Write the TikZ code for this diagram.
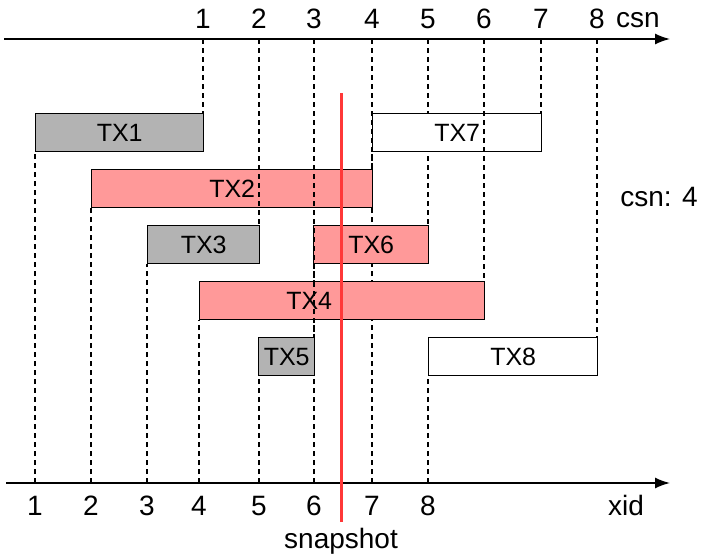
\documentclass[tikz,border=0pt]{standalone}
\usepackage{fontspec}
\setmainfont{Liberation Sans}
\usetikzlibrary{arrows.meta,backgrounds}
\definecolor{txgray}{HTML}{B3B3B3}
\definecolor{txpink}{HTML}{FF9999}
\definecolor{snapred}{HTML}{FF3838}

\begin{document}
\begin{tikzpicture}[x=1pt,y=-1pt,
  font=\fontsize{25}{29}\selectfont,
  axis/.style={line width=1.6pt,-{Latex[length=15pt,width=11pt]}},
  guide/.style={line width=1.3pt,dash pattern=on 5pt off 4pt},
  txbox/.style={draw,line width=1.4pt,minimum height=38pt,inner sep=0pt,
                anchor=north west,text depth=0pt},
  txgrey/.style={txbox,fill=txgray},
  txred/.style={txbox,fill=txpink},
  txwhite/.style={txbox,fill=white},
  snapline/.style={draw=snapred,line width=3pt},
  lbl/.style={inner sep=0pt,font=\fontsize{28}{32}\selectfont}]
\useasboundingbox (0,0) rectangle (701,557);

% axes
\coordinate (topL) at (4,39);
\coordinate (topR) at (670,39);
\coordinate (botL) at (6,483);
\coordinate (botR) at (670,483);
\draw[axis] (topL) -- (topR);
\draw[axis] (botL) -- (botR);

% commit sequence number ticks (top axis)
\foreach \i/\x in {1/203,2/259,3/314,4/372,5/428,6/484,7/541,8/597}{
  \coordinate (c\i) at (\x,39);
  \node[lbl] (lc\i) at (\x,19) {\i};
}
\node[lbl] (lcsn) at (638,20) {csn};

% transaction id ticks (bottom axis)
\foreach \i/\x in {1/35,2/91,3/147,4/199,5/259,6/314,7/372,8/428}{
  \coordinate (x\i) at (\x,483);
  \node[lbl] (lx\i) at (\x,506) {\i};
}
\node[lbl] (lxid) at (626,505) {xid};

% transactions
\node[txgrey,minimum width=168pt] (tx1) at (35,113) {TX1};
\node[txwhite,minimum width=169pt] (tx7) at (372,113) {TX7};
\node[txred,minimum width=281pt] (tx2) at (91,169) {TX2};
\node[txgrey,minimum width=112pt] (tx3) at (147,225) {TX3};
\node[txred,minimum width=115pt] (tx6) at (313,225) {TX6};
\node[txred,minimum width=285pt] (tx4) at (199,281) {};
\node[inner sep=0pt,xshift=-33pt] (tx4t) at (tx4.center) {TX4};
\node[txgrey,minimum width=56pt] (tx5) at (258,337) {TX5};
\node[txwhite,minimum width=169pt] (tx8) at (428,337) {TX8};

\node[lbl] (cur) at (659,197) {csn: 4};

% guides hidden behind the boxes
\begin{scope}[on background layer]
  \draw[guide] (x1) -- (x1 |- tx1.south);
  \draw[guide] (x2) -- (x2 |- tx2.south);
  \draw[guide] (x3) -- (x3 |- tx3.south);
  \draw[guide] (x4) -- (x4 |- tx4.south);
  \draw[guide] (x5) -- (x5 |- tx5.south);
  \draw[guide] (x6) -- (x6 |- tx6.south);
  \draw[guide] (x7) -- (x7 |- tx7.south);
  \draw[guide] (x8) -- (x8 |- tx8.south);
  \draw[guide] (c1) -- (c1 |- tx1.north);
  \draw[guide] (c4) -- (c4 |- tx2.north);
  \draw[guide] (c5) -- (c5 |- tx6.north);
  \draw[guide] (c7) -- (c7 |- tx7.north);
  \draw[guide] (c8) -- (c8 |- tx8.north);
\end{scope}

% guides crossing over the boxes
\draw[guide] (c2) -- (c2 |- tx3.north);
\draw[guide] (c3) -- (c3 |- tx5.north);
\draw[guide] (c6) -- (c6 |- tx4.north);

% snapshot
\coordinate (snapT) at (341,93);
\coordinate (snapB) at (341,522);
\draw[snapline] (snapT) -- (snapB);
\node[lbl] (snap) at (341,541) {snapshot};
\end{tikzpicture}
\end{document}
